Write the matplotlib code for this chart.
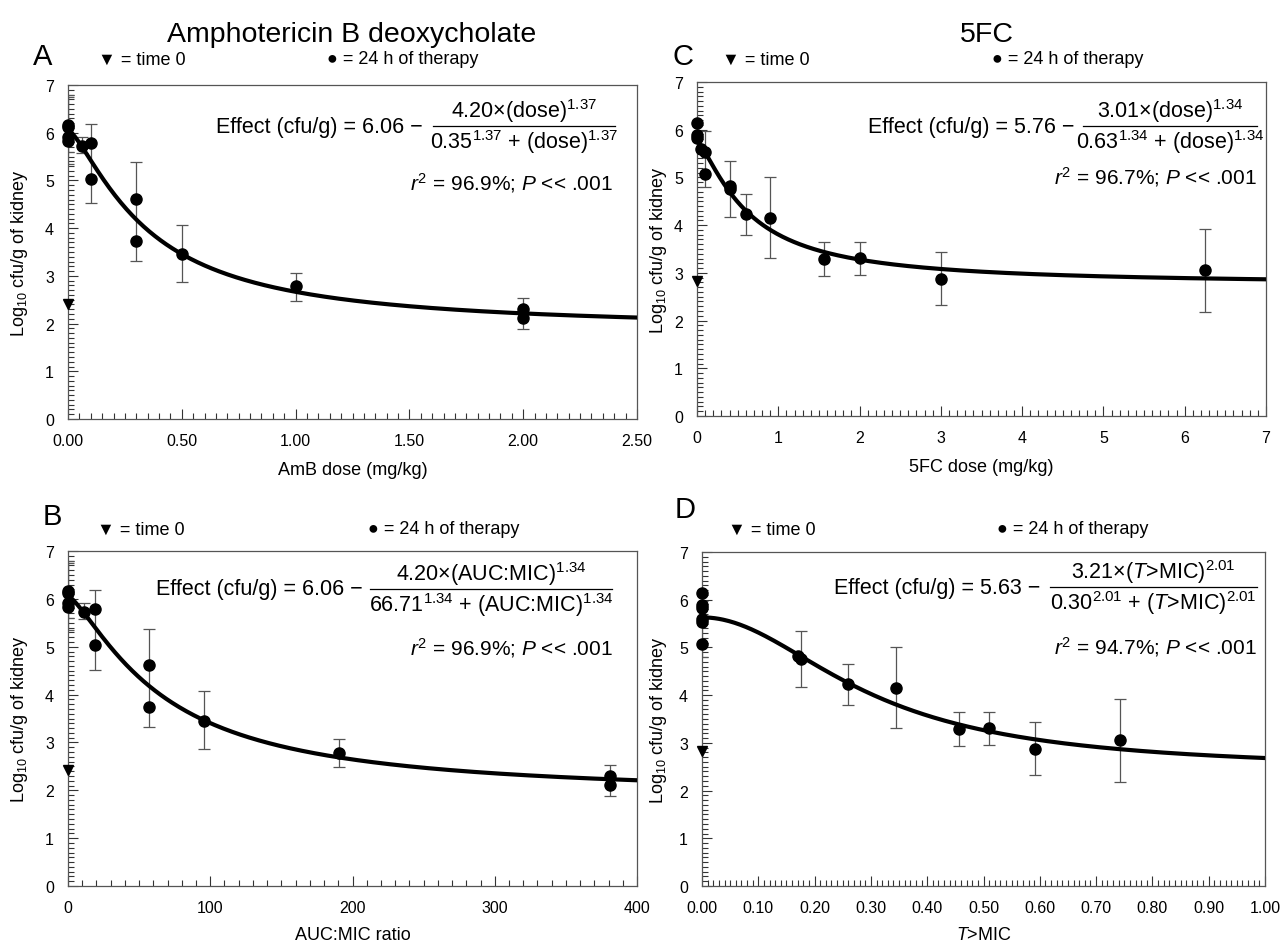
import matplotlib
matplotlib.use("Agg")
import matplotlib.pyplot as plt
import numpy as np
from matplotlib.ticker import MultipleLocator, FormatStrFormatter

plt.rcParams['font.family'] = ['Liberation Sans', 'DejaVu Sans']
plt.rcParams['mathtext.fontset'] = 'custom'
plt.rcParams['mathtext.rm'] = 'Liberation Sans'
plt.rcParams['mathtext.it'] = 'Liberation Sans:italic'
plt.rcParams['mathtext.bf'] = 'Liberation Sans:bold'

# ---- AmB deoxycholate (panels A, B) ----
amb_dose = [0, 0, 0, 0, 0.06, 0.1, 0.1, 0.3, 0.3, 0.5, 1.0, 2.0, 2.0]
amb_auc = [0, 0, 0, 0, 11.4, 19.1, 19.1, 57.2, 57.2, 95.3, 190.6, 381.2, 381.2]
amb_log = [6.17, 6.13, 5.92, 5.82, 5.73, 5.78, 5.04, 4.62, 3.73, 3.45, 2.78, 2.30, 2.12]
amb_time0 = 2.42
amb_err_dose = [0, 0, 0.06, 0.1, 0.3, 0.5, 1.0, 2.0]
amb_err_auc = [0, 0, 11.4, 19.1, 57.2, 95.3, 190.6, 381.2]
amb_err_lo = [5.35, 5.6, 5.57, 4.52, 3.32, 2.87, 2.48, 1.88]
amb_err_hi = [6.8, 6.75, 5.92, 6.18, 5.38, 4.07, 3.07, 2.53]

# ---- 5FC (panels C, D) ----
fc_dose = [0, 0, 0, 0.05, 0.1, 0.1, 0.4, 0.4, 0.6, 0.9, 1.56, 2.0, 3.0, 6.25]
fc_tmic = [0, 0, 0, 0, 0, 0, 0.17, 0.176, 0.26, 0.345, 0.457, 0.509, 0.592, 0.742]
fc_log = [6.14, 5.89, 5.82, 5.60, 5.53, 5.07, 4.83, 4.76, 4.24, 4.15, 3.29, 3.31, 2.88, 3.05]
fc_time0 = 2.82
fc_err_dose = [0.1, 0.4, 0.6, 0.9, 1.56, 2.0, 3.0, 6.25]
fc_err_tmic = [0, 0.175, 0.26, 0.345, 0.457, 0.509, 0.592, 0.742]
fc_err_lo = [4.8, 4.17, 3.8, 3.31, 2.94, 2.96, 2.33, 2.18]
fc_err_hi = [5.98, 5.34, 4.66, 5.0, 3.64, 3.64, 3.43, 3.91]

# fitted Hill models as printed in the panels: (E0, Emax, EC50, H)
fit_a = (6.06, 4.20, 0.35, 1.37)
fit_b = (6.06, 4.20, 66.71, 1.34)
fit_c = (5.76, 3.01, 0.63, 1.34)
fit_d = (5.63, 3.21, 0.30, 2.01)

W, H = 1283, 945
fig = plt.figure(figsize=(12.83, 9.45), dpi=100)


def px_axes(l, r, t, b):
    return fig.add_axes([l / W, 1 - b / H, (r - l) / W, (b - t) / H])


def hill(x, p):
    e0, emax, ec50, h = p
    x = np.asarray(x, dtype=float)
    return e0 - emax * x**h / (ec50**h + x**h)


def panel(ax, x, y, ex, elo, ehi, t0, fit, xmax, major, minor, fmt, xlabel):
    xs = np.linspace(0, xmax, 400)
    mid = (np.array(elo) + np.array(ehi)) / 2
    half = (np.array(ehi) - np.array(elo)) / 2
    ax.errorbar(ex, mid, yerr=half, fmt='none', ecolor='#555555', elinewidth=0.9,
                capsize=4, capthick=0.9, zorder=2)
    ax.plot(xs, hill(xs, fit), color='black', lw=3, zorder=3)
    ax.plot(x, y, 'o', color='black', ms=8, zorder=4, clip_on=False)
    ax.plot([0], [t0], 'v', color='black', ms=7, zorder=4, clip_on=False)
    ax.set_xlim(0, xmax)
    ax.set_ylim(0, 7)
    ax.xaxis.set_major_locator(MultipleLocator(major))
    ax.xaxis.set_minor_locator(MultipleLocator(minor))
    ax.xaxis.set_major_formatter(FormatStrFormatter(fmt))
    ax.yaxis.set_major_locator(MultipleLocator(1))
    ax.yaxis.set_minor_locator(MultipleLocator(0.1))
    ax.tick_params(which='both', direction='in', colors='#333333', labelcolor='black',
                   labelsize=11.5, width=0.8)
    ax.tick_params(which='major', length=7)
    ax.tick_params(which='minor', length=4)
    ax.tick_params(axis='x', pad=10)
    ax.tick_params(axis='y', pad=10)
    for s in ax.spines.values():
        s.set_color('#555555')
        s.set_linewidth(0.9)
    ax.set_xlabel(xlabel, fontsize=13)
    ax.set_ylabel(r'Log$_{10}$ cfu/g of kidney', fontsize=13)


def equation(ax, lead, num, den, stat, xr, line, yc, xs, ys):
    fs = 15.5
    ax.text(xr, yc, lead, transform=ax.transAxes, ha='right', va='center', fontsize=fs)
    xm = (line[0] + line[1]) / 2
    ax.plot(line, [yc, yc], transform=ax.transAxes, color='black', lw=0.9, clip_on=False)
    ax.text(xm, yc + 0.047, num, transform=ax.transAxes, ha='center', va='center', fontsize=fs)
    ax.text(xm, yc - 0.045, den, transform=ax.transAxes, ha='center', va='center', fontsize=fs)
    ax.text(xs, ys, stat, transform=ax.transAxes, ha='right', va='center', fontsize=15)


def legend_row(tx, ty, cx, cy):
    fig.text(tx / W, 1 - ty / H, '▼ = time 0', fontsize=13, va='center')
    fig.text(cx / W, 1 - cy / H, '● = 24 h of therapy', fontsize=13, va='center')


ax_a = px_axes(68, 637, 86, 420)
ax_b = px_axes(68, 637, 552, 887)
ax_c = px_axes(697, 1266, 83, 417)
ax_d = px_axes(702, 1265, 553, 887)

panel(ax_a, amb_dose, amb_log, amb_err_dose, amb_err_lo, amb_err_hi, amb_time0, fit_a,
      2.5, 0.5, 0.05, '%.2f', 'AmB dose (mg/kg)')
panel(ax_b, amb_auc, amb_log, amb_err_auc, amb_err_lo, amb_err_hi, amb_time0, fit_b,
      400, 100, 10, '%d', 'AUC:MIC ratio')
panel(ax_c, fc_dose, fc_log, fc_err_dose, fc_err_lo, fc_err_hi, fc_time0, fit_c,
      7, 1, 0.1, '%d', '5FC dose (mg/kg)')
panel(ax_d, fc_tmic, fc_log, fc_err_tmic, fc_err_lo, fc_err_hi, fc_time0, fit_d,
      1.0, 0.1, 0.01, '%.2f', r'$\mathit{T}$>MIC')

for ax in (ax_a, ax_c):
    ax.xaxis.set_label_coords(0.5, -0.125)
for ax in (ax_b, ax_d):
    ax.xaxis.set_label_coords(0.5, -0.12)
ax_a.yaxis.set_label_coords(-0.067, 0.5)
ax_b.yaxis.set_label_coords(-0.067, 0.5)
ax_c.yaxis.set_label_coords(-0.049, 0.5)
ax_d.yaxis.set_label_coords(-0.059, 0.5)

equation(ax_a, 'Effect (cfu/g) = 6.06 −', r'4.20×(dose)$^{1.37}$',
         r'0.35$^{1.37}$ + (dose)$^{1.37}$', r'$\mathit{r}^2$ = 96.9%; $\mathit{P}$ << .001',
         0.624, (0.641, 0.961), 0.877, 0.958, 0.71)
equation(ax_b, 'Effect (cfu/g) = 6.06 −', r'4.20×(AUC:MIC)$^{1.34}$',
         r'66.71$^{1.34}$ + (AUC:MIC)$^{1.34}$', r'$\mathit{r}^2$ = 96.9%; $\mathit{P}$ << .001',
         0.517, (0.531, 0.956), 0.887, 0.958, 0.713)
equation(ax_c, 'Effect (cfu/g) = 5.76 −', r'3.01×(dose)$^{1.34}$',
         r'0.63$^{1.34}$ + (dose)$^{1.34}$', r'$\mathit{r}^2$ = 96.7%; $\mathit{P}$ << .001',
         0.663, (0.678, 0.984), 0.868, 0.984, 0.719)
equation(ax_d, 'Effect (cfu/g) = 5.63 −', r'3.21×($\mathit{T}$>MIC)$^{2.01}$',
         r'0.30$^{2.01}$ + ($\mathit{T}$>MIC)$^{2.01}$', r'$\mathit{r}^2$ = 94.7%; $\mathit{P}$ << .001',
         0.60, (0.618, 0.986), 0.895, 0.986, 0.719)

# titles, panel letters, marker keys
fig.text(352 / W, 1 - 35 / H, 'Amphotericin B deoxycholate', fontsize=20.5, ha='center', va='center')
fig.text(987 / W, 1 - 35 / H, '5FC', fontsize=20.5, ha='center', va='center')
for letter, lx, ly in (('A', 33, 57), ('B', 43, 517), ('C', 673, 57), ('D', 675, 510)):
    fig.text(lx / W, 1 - ly / H, letter, fontsize=21, va='center')

legend_row(98, 60, 327, 60)
legend_row(97, 530, 368, 530)
legend_row(722, 60, 992, 60)
legend_row(728, 530, 997, 530)

fig.savefig('out.png', dpi=100)
